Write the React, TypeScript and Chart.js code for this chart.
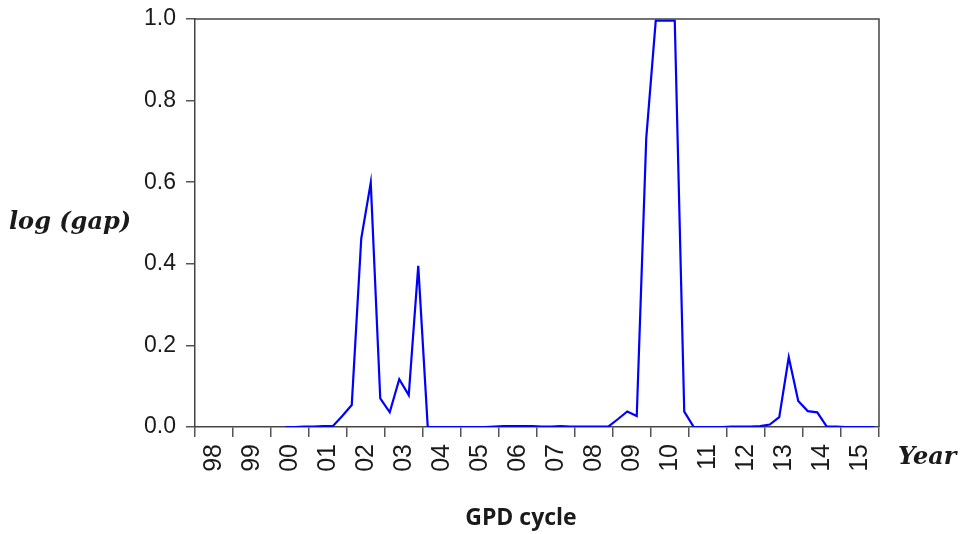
import React, { useEffect, useRef } from "react";
import { Chart, registerables } from "chart.js";

Chart.register(...registerables);

// Quarterly observations, 2000Q2 .. 2015Q4
const firstYear = 2000;
const firstQuarter = 2;
const gapValues: number[] = [
  // 2000 Q2-Q4
  0, 0, 0.001,
  // 2001
  0.001, 0.002, 0.002, 0.027,
  // 2002
  0.054, 0.462, 0.599, 0.07,
  // 2003
  0.036, 0.117, 0.078, 0.395,
  // 2004
  0, 0, 0, 0,
  // 2005
  0, 0, 0, 0.001,
  // 2006
  0.002, 0.002, 0.002, 0.002,
  // 2007
  0.001, 0.001, 0.002, 0.001,
  // 2008
  0.001, 0.001, 0.001, 0.001,
  // 2009
  0.019, 0.038, 0.027, 0.708,
  // 2010
  0.996, 0.996, 0.996, 0.0375,
  // 2011
  0, 0, 0, 0,
  // 2012
  0.001, 0.001, 0.001, 0.002,
  // 2013
  0.006, 0.024, 0.171, 0.064,
  // 2014
  0.039, 0.036, 0.001, 0.001,
  // 2015
  0, 0, 0, 0,
];

const axisYears: number[] = [
  1998, 1999, 2000, 2001, 2002, 2003, 2004, 2005, 2006, 2007, 2008, 2009,
  2010, 2011, 2012, 2013, 2014, 2015,
];
const yearLabels: string[] = [
  "98", "99", "00", "01", "02", "03", "04", "05", "06", "07", "08", "09",
  "10", "11", "12", "13", "14", "15",
];
const yTicks: number[] = [0, 0.2, 0.4, 0.6, 0.8, 1.0];

const yAxisTitle = "log (gap)";
const xAxisTitle = "Year";
const chartCaption = "GPD cycle";

function buildPoints() {
  return gapValues.map((v, i) => {
    const qIndex = firstQuarter - 1 + i;
    const year = firstYear + Math.floor(qIndex / 4);
    const q = (qIndex % 4) + 1;
    return { x: year + (q - 0.5) / 4, y: v };
  });
}

const boxPlugin = {
  id: "boxPlugin",
  afterDraw(chart: any) {
    const { ctx, chartArea } = chart;
    ctx.save();
    ctx.strokeStyle = "#444";
    ctx.lineWidth = 1.5;
    ctx.beginPath();
    ctx.moveTo(chartArea.left, chartArea.top);
    ctx.lineTo(chartArea.right, chartArea.top);
    ctx.lineTo(chartArea.right, chartArea.bottom);
    ctx.stroke();
    ctx.restore();
  },
};

export default function App() {
  const canvasRef = useRef<HTMLCanvasElement | null>(null);

  useEffect(() => {
    if (!canvasRef.current) return;
    const minYear = axisYears[0];
    const maxYear = axisYears[axisYears.length - 1] + 1;
    const xTickValues: number[] = [];
    axisYears.forEach((y) => {
      xTickValues.push(y);
      xTickValues.push(y + 0.5);
    });
    xTickValues.push(maxYear);

    const chart = new Chart(canvasRef.current, {
      type: "line",
      data: {
        datasets: [
          {
            data: buildPoints(),
            borderColor: "#0000ff",
            borderWidth: 2.2,
            pointRadius: 0,
            tension: 0,
            fill: false,
          },
        ],
      },
      options: {
        animation: false,
        responsive: false,
        maintainAspectRatio: false,
        events: [],
        layout: { padding: { top: 19, right: 82, bottom: 47, left: 0 } },
        plugins: {
          legend: { display: false },
          tooltip: { enabled: false },
          title: { display: false },
        },
        scales: {
          x: {
            type: "linear",
            position: "bottom",
            min: minYear,
            max: maxYear,
            afterBuildTicks: (scale: any) => {
              scale.ticks = xTickValues.map((v) => ({ value: v }));
            },
            afterFit: (scale: any) => {
              scale.height = 60;
              scale.paddingLeft = 0;
              scale.paddingRight = 0;
            },
            ticks: {
              autoSkip: false,
              minRotation: 90,
              maxRotation: 90,
              padding: 7,
              color: "#1a1a1a",
              font: { family: "'Liberation Sans', Arial, sans-serif", size: 25 },
              callback: (value: any) => {
                const v = Number(value);
                if (Number.isInteger(v)) return "";
                const idx = axisYears.indexOf(Math.floor(v));
                return idx >= 0 ? yearLabels[idx] : "";
              },
            },
            grid: {
              drawOnChartArea: false,
              drawTicks: true,
              tickLength: 10,
              lineWidth: 1.5,
              color: (ctx: any) =>
                ctx.tick && Number.isInteger(ctx.tick.value) ? "#555" : "rgba(0,0,0,0)",
            },
            border: { display: true, color: "#444", width: 1.5 },
          },
          y: {
            type: "linear",
            min: 0,
            max: 1,
            afterBuildTicks: (scale: any) => {
              scale.ticks = yTicks.map((v) => ({ value: v }));
            },
            afterFit: (scale: any) => {
              scale.width = 195;
              scale.paddingTop = 0;
              scale.paddingBottom = 0;
            },
            ticks: {
              padding: 10,
              color: "#1a1a1a",
              font: { family: "'Liberation Sans', Arial, sans-serif", size: 23 },
              callback: (value: any) => Number(value).toFixed(1),
            },
            grid: {
              drawOnChartArea: false,
              drawTicks: true,
              tickLength: 9,
              lineWidth: 1.5,
              color: "#555",
            },
            border: { display: true, color: "#444", width: 1.5 },
          },
        },
      },
      plugins: [boxPlugin],
    } as any);

    return () => {
      chart.destroy();
    };
  }, []);

  return (
    <div
      style={{
        position: "absolute",
        left: 0,
        top: 0,
        width: 961,
        height: 534,
        background: "#ffffff",
        overflow: "hidden",
      }}
    >
      <canvas ref={canvasRef} width={961} height={534} style={{ display: "block" }} />
      <div
        style={{
          position: "absolute",
          left: 9,
          top: 206,
          fontFamily: "'DejaVu Serif', serif",
          fontWeight: "bold",
          fontStyle: "italic",
          fontSize: 24,
          color: "#1a1a1a",
          whiteSpace: "nowrap",
        }}
      >
        {yAxisTitle}
      </div>
      <div
        style={{
          position: "absolute",
          left: 898,
          top: 441,
          fontFamily: "'DejaVu Serif', serif",
          fontWeight: "bold",
          fontStyle: "italic",
          fontSize: 24,
          color: "#1a1a1a",
          whiteSpace: "nowrap",
        }}
      >
        {xAxisTitle}
      </div>
      <div
        style={{
          position: "absolute",
          left: 421,
          width: 200,
          top: 500,
          textAlign: "center",
          fontFamily: "'Open Sans', sans-serif",
          fontWeight: "bold",
          fontSize: 23,
          color: "#1a1a1a",
          whiteSpace: "nowrap",
        }}
      >
        {chartCaption}
      </div>
    </div>
  );
}
